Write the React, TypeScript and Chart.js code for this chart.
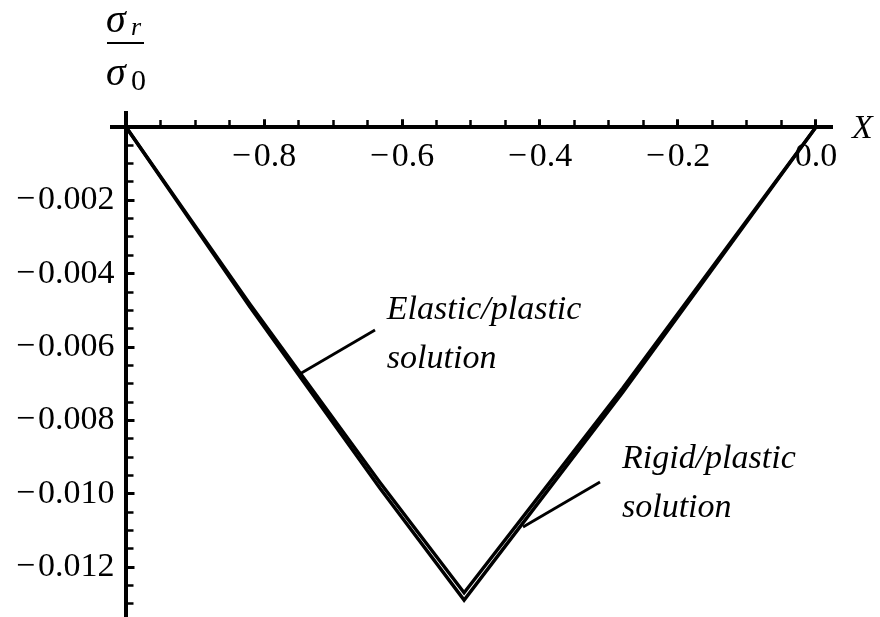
import React, { useEffect, useRef } from "react";
import { Chart, registerables } from "chart.js";

Chart.register(...registerables);

const SERIF = '"Liberation Serif", "Times New Roman", serif';

// Axis extents (the axes cross at X = -1, σr/σ0 = 0)
const X_MIN = -1.0203;
const X_MAX = 0.0232;
const Y_MIN = -0.01336;
const Y_MAX = 0.00038;
const X_ORIGIN = -1;
const Y_ORIGIN = 0;

// Tick positions and labels
const xMajorTicks = [-1.0, -0.8, -0.6, -0.4, -0.2, 0.0];
const xTickLabels = ["", "\u2212\u200A0.8", "\u2212\u200A0.6", "\u2212\u200A0.4", "\u2212\u200A0.2", "0.0"];
const xMinorTicks = [
  -0.95, -0.9, -0.85, -0.75, -0.7, -0.65, -0.55, -0.5, -0.45,
  -0.35, -0.3, -0.25, -0.15, -0.1, -0.05,
];
const yMajorTicks = [0, -0.002, -0.004, -0.006, -0.008, -0.01, -0.012];
const yTickLabels = [
  "",
  "\u2212\u200A0.002",
  "\u2212\u200A0.004",
  "\u2212\u200A0.006",
  "\u2212\u200A0.008",
  "\u2212\u200A0.010",
  "\u2212\u200A0.012",
];
const yMinorTicks = [
  -0.0005, -0.001, -0.0015, -0.0025, -0.003, -0.0035, -0.0045, -0.005, -0.0055,
  -0.0065, -0.007, -0.0075, -0.0085, -0.009, -0.0095, -0.0105, -0.011, -0.0115,
  -0.0125, -0.013,
];

// Rigid/plastic solution
const rigidX = [-1.0, -0.9072, -0.8203, -0.6319, -0.51, -0.28, 0.0];
const rigidY = [0, -0.00254, -0.00491, -0.00985, -0.0129, -0.00723, 0];

// Elastic/plastic solution
const elasticX = [-1.0, -0.9072, -0.8203, -0.6319, -0.51, -0.28, 0.0];
const elasticY = [0, -0.0025, -0.00483, -0.00969, -0.0127, -0.00712, 0];

// Label leaders
const elasticLeaderX = [-0.7507, -0.6391];
const elasticLeaderY = [-0.006763, -0.005536];
const rigidLeaderX = [-0.4246, -0.313];
const rigidLeaderY = [-0.010908, -0.009681];

// Curve labels: first-line baseline anchor in data units
const noteLines = [
  ["Elastic/plastic", "solution"],
  ["Rigid/plastic", "solution"],
];
const noteX = [-0.622, -0.2812];
const noteY = [-0.00524, -0.0093];

const toPoints = (xs: number[], ys: number[]) => xs.map((x, i) => ({ x, y: ys[i] }));

const setTicks = (values: number[]) => (scale: any) => {
  scale.ticks = values.map((value) => ({ value }));
};

const noPadding = (scale: any) => {
  scale.paddingLeft = 0;
  scale.paddingRight = 0;
  scale.paddingTop = 0;
  scale.paddingBottom = 0;
};

const textPlugin = {
  id: "plotText",
  afterDraw(chart: any) {
    const { ctx } = chart;
    const xs = chart.scales.x;
    const ys = chart.scales.y;
    ctx.save();
    ctx.fillStyle = "#000";
    ctx.strokeStyle = "#000";
    ctx.textBaseline = "alphabetic";
    ctx.textAlign = "left";

    // curve labels
    ctx.font = `italic 34px ${SERIF}`;
    noteLines.forEach((lines, k) => {
      const px = xs.getPixelForValue(noteX[k]);
      const py = ys.getPixelForValue(noteY[k]);
      lines.forEach((t, j) => ctx.fillText(t, px, py + j * 49));
    });

    // horizontal axis name
    const x0 = xs.getPixelForValue(X_ORIGIN);
    const y0 = ys.getPixelForValue(Y_ORIGIN);
    ctx.font = `italic 34px ${SERIF}`;
    ctx.fillText("X", xs.right + 20, y0 + 11);

    // vertical axis name: σr / σ0
    const fx = x0 - 20;
    ctx.font = `italic 40px ${SERIF}`;
    ctx.fillText("\u03C3", fx, 32);
    ctx.font = `italic 26px ${SERIF}`;
    ctx.fillText("r", fx + 25, 35);
    ctx.lineWidth = 2;
    ctx.beginPath();
    ctx.moveTo(fx + 1, 43);
    ctx.lineTo(fx + 38, 43);
    ctx.stroke();
    ctx.font = `italic 40px ${SERIF}`;
    ctx.fillText("\u03C3", fx, 85);
    ctx.font = `30px ${SERIF}`;
    ctx.fillText("0", fx + 25, 90);
    ctx.restore();
  },
};

export default function App() {
  const canvasRef = useRef<HTMLCanvasElement | null>(null);

  useEffect(() => {
    const canvas = canvasRef.current;
    if (!canvas) return;

    const lineStyle = {
      borderColor: "#000",
      backgroundColor: "#000",
      pointRadius: 0,
      fill: false,
      tension: 0,
      xAxisID: "x",
      yAxisID: "y",
    };

    const tickFont = { family: SERIF, size: 34 };

    const chart = new Chart(canvas, {
      type: "line",
      data: {
        datasets: [
          { ...lineStyle, label: "Rigid/plastic solution", data: toPoints(rigidX, rigidY), borderWidth: 3.4 },
          { ...lineStyle, label: "Elastic/plastic solution", data: toPoints(elasticX, elasticY), borderWidth: 3.4 },
          { ...lineStyle, label: "elastic leader", data: toPoints(elasticLeaderX, elasticLeaderY), borderWidth: 2.8 },
          { ...lineStyle, label: "rigid leader", data: toPoints(rigidLeaderX, rigidLeaderY), borderWidth: 2.8 },
        ],
      },
      options: {
        animation: false,
        responsive: false,
        devicePixelRatio: 1,
        layout: { padding: { left: 0, right: 48, top: 113, bottom: 0 } },
        plugins: { legend: { display: false }, tooltip: { enabled: false } },
        scales: {
          x: {
            type: "linear",
            min: X_MIN,
            max: X_MAX,
            position: { y: Y_ORIGIN } as any,
            afterBuildTicks: setTicks(xMajorTicks),
            afterFit: noPadding,
            grid: { drawOnChartArea: false, drawTicks: true, tickLength: -9.75, tickWidth: 3, tickColor: "#000" },
            border: { display: true, color: "#000", width: 4 },
            ticks: {
              color: "#000",
              font: tickFont,
              padding: 19.5,
              maxRotation: 0,
              autoSkip: false,
              callback: (_v: any, i: number) => xTickLabels[i],
            },
          },
          xMinor: {
            type: "linear",
            axis: "x",
            min: X_MIN,
            max: X_MAX,
            position: { y: Y_ORIGIN } as any,
            afterBuildTicks: setTicks(xMinorTicks),
            afterFit: noPadding,
            grid: { drawOnChartArea: false, drawTicks: true, tickLength: -7, tickWidth: 2.5, tickColor: "#000" },
            border: { display: false },
            ticks: { display: false },
          },
          y: {
            type: "linear",
            min: Y_MIN,
            max: Y_MAX,
            position: { x: X_ORIGIN } as any,
            afterBuildTicks: setTicks(yMajorTicks),
            afterFit: noPadding,
            grid: { drawOnChartArea: false, drawTicks: true, tickLength: -10.5, tickWidth: 3, tickColor: "#000" },
            border: { display: true, color: "#000", width: 4 },
            ticks: { display: false },
          },
          yMinor: {
            type: "linear",
            axis: "y",
            min: Y_MIN,
            max: Y_MAX,
            position: { x: X_ORIGIN } as any,
            afterBuildTicks: setTicks(yMinorTicks),
            afterFit: noPadding,
            grid: { drawOnChartArea: false, drawTicks: true, tickLength: -7.5, tickWidth: 2.5, tickColor: "#000" },
            border: { display: false },
            ticks: { display: false },
          },
          // label column left of the vertical axis (mirrored so it is not clipped)
          yLabels: {
            type: "linear",
            axis: "y",
            min: Y_MIN,
            max: Y_MAX,
            position: "left",
            afterBuildTicks: setTicks(yMajorTicks),
            afterFit: (scale: any) => {
              scale.width = 112;
              noPadding(scale);
            },
            grid: { display: false, drawTicks: false },
            border: { display: false },
            ticks: {
              color: "#000",
              font: tickFont,
              mirror: true,
              padding: -96,
              crossAlign: "near",
              autoSkip: false,
              callback: (_v: any, i: number) => yTickLabels[i],
            },
          },
        } as any,
      },
      plugins: [textPlugin],
    });

    return () => chart.destroy();
  }, []);

  return (
    <div style={{ position: "absolute", left: 0, top: 0, width: 880, height: 617, background: "#fff" }}>
      <canvas ref={canvasRef} width={880} height={617} />
    </div>
  );
}
